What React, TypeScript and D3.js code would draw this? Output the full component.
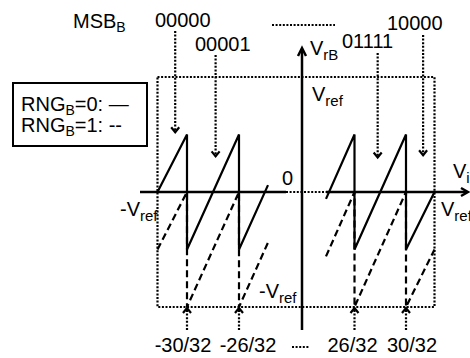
import * as d3 from 'd3'

// input in units of Vref/32, output in units of Vref
const transitions = [-30, -26, 26, 30]
const tickLabels = ['-30/32', '-26/32', '26/32', '30/32']
const codes = ['00000', '00001', '01111', '10000']
const codeX = [-30.8, -27.8, 27.8, 31.2]
const codeTip = [0.52, 0.31, 0.3, 0.32]

// RNG_B = 0 (solid) residue, left and right of the break
const rng0Left: [number, number][] = [[-32, 0], [-30, 0.5], [-30, -0.5], [-26, 0.5], [-26, -0.5], [-23.75, 0.06]]
const rng0Right: [number, number][] = [[23.75, -0.06], [26, 0.5], [26, -0.5], [30, 0.5], [30, -0.5], [32, 0]]
// RNG_B = 1 (dashed) residue
const rng1Left: [number, number][] = [[-32, -0.5], [-30, 0], [-30, -1], [-26, 0], [-26, -1], [-23.75, -0.44]]
const rng1Right: [number, number][] = [[23.75, -0.56], [26, 0], [26, -1], [30, 0], [30, -1], [32, -0.5]]

const W = 470
const H = 358
const FONT = '"Liberation Sans", Arial, sans-serif'

const x = d3
  .scaleLinear()
  .domain([-32, -30, -26, -23.75, 0, 23.75, 26, 30, 32])
  .range([157.5, 187, 239, 268, 302, 326, 354.5, 406, 434.5])
const y = d3.scaleLinear().domain([-1, 1]).range([307, 77])

const line = d3
  .line<[number, number]>()
  .x(d => x(d[0]))
  .y(d => y(d[1]))

const chevron = (tx: number, ty: number, dir: 'up' | 'down' | 'right', w = 4, h = 5) => {
  if (dir === 'down') return `M${tx - w},${ty - h}L${tx},${ty}L${tx + w},${ty - h}`
  if (dir === 'up') return `M${tx - w},${ty + h}L${tx},${ty}L${tx + w},${ty + h}`
  return `M${tx - h},${ty - w}L${tx},${ty}L${tx - h},${ty + w}`
}

const codeLabelPos = [
  [155, 27],
  [195, 51],
  [342, 48],
  [387, 30],
]
const codeTop = [31, 55, 53, 35]

export default function App() {
  const y0 = y(0)
  const dotted = {stroke: '#000', strokeWidth: 2.2, strokeDasharray: '2,1.6', fill: 'none'}
  const dashed = {stroke: '#000', strokeWidth: 2.2, strokeDasharray: '7,4', fill: 'none'}
  const solid = {stroke: '#000', strokeWidth: 2.2, fill: 'none'}

  return (
    <svg
      width={W}
      height={H}
      style={{position: 'absolute', left: 0, top: 0, background: '#fff'}}
      fontFamily={FONT}
      fontSize={20}>
      {/* dotted Vref box */}
      <rect x={x(-32)} y={y(1)} width={x(32) - x(-32)} height={y(-1) - y(1)} {...dotted} />

      {/* horizontal axis with break */}
      <line x1={140} x2={286} y1={y0} y2={y0} stroke="#000" strokeWidth={2.5} />
      <line x1={286} x2={326} y1={y0} y2={y0} {...dotted} />
      <line x1={326} x2={467} y1={y0} y2={y0} stroke="#000" strokeWidth={2.5} />
      <path d={chevron(468, y0, 'right', 4, 7)} {...solid} strokeWidth={2.5} />

      {/* vertical axis */}
      <line x1={x(0)} x2={x(0)} y1={330} y2={49} stroke="#000" strokeWidth={2.5} />
      <path d={chevron(x(0), 48, 'up', 4, 8)} {...solid} strokeWidth={2.5} />

      {/* residues */}
      <path d={line(rng1Left) ?? ''} {...dashed} />
      <path d={line(rng1Right) ?? ''} {...dashed} />
      <path d={line(rng0Left) ?? ''} {...solid} />
      <path d={line(rng0Right) ?? ''} {...solid} />

      {/* code arrows */}
      {codes.map((c, i) => (
        <g key={c}>
          <line x1={x(codeX[i])} x2={x(codeX[i])} y1={codeTop[i]} y2={y(codeTip[i])} {...dotted} />
          <path d={chevron(x(codeX[i]), y(codeTip[i]), 'down')} {...solid} />
          <text x={codeLabelPos[i][0]} y={codeLabelPos[i][1]}>
            {c}
          </text>
        </g>
      ))}

      {/* threshold arrows */}
      {transitions.map((t, i) => (
        <g key={t}>
          <line x1={x(t)} x2={x(t)} y1={330} y2={y(-1) + 1} {...dotted} />
          <path d={chevron(x(t), y(-1) + 1, 'up')} {...solid} />
          <text x={x(t) + [-4, 9, -2, 6][i]} y={352} textAnchor="middle">
            {tickLabels[i]}
          </text>
        </g>
      ))}
      <line x1={292} x2={310} y1={347} y2={347} {...dotted} />
      <line x1={272} x2={335} y1={25} y2={25} {...dotted} />

      {/* labels */}
      <text x={73} y={28}>
        MSB<tspan fontSize={14} dy={4}>B</tspan>
      </text>
      <text x={310} y={55}>
        V<tspan fontSize={15} dy={5}>rB</tspan>
      </text>
      <text x={312} y={101}>
        V<tspan fontSize={15} dy={5}>ref</tspan>
      </text>
      <text x={282} y={185}>
        0
      </text>
      <text x={453} y={178}>
        V<tspan fontSize={15} dy={5}>i</tspan>
      </text>
      <text x={441} y={216}>
        V<tspan fontSize={15} dy={5}>ref</tspan>
      </text>
      <text x={120} y={216}>
        -V<tspan fontSize={15} dy={5}>ref</tspan>
      </text>
      <text x={259} y={298}>
        -V<tspan fontSize={15} dy={5}>ref</tspan>
      </text>

      {/* legend */}
      <rect x={13} y={83} width={134} height={63} fill="#fff" stroke="#000" strokeWidth={2} />
      <text x={21} y={111}>
        RNG<tspan fontSize={14} dy={4}>B</tspan>
        <tspan dy={-4}>=0: —</tspan>
      </text>
      <text x={21} y={132}>
        RNG<tspan fontSize={14} dy={4}>B</tspan>
        <tspan dy={-4}>=1: --</tspan>
      </text>
    </svg>
  )
}
